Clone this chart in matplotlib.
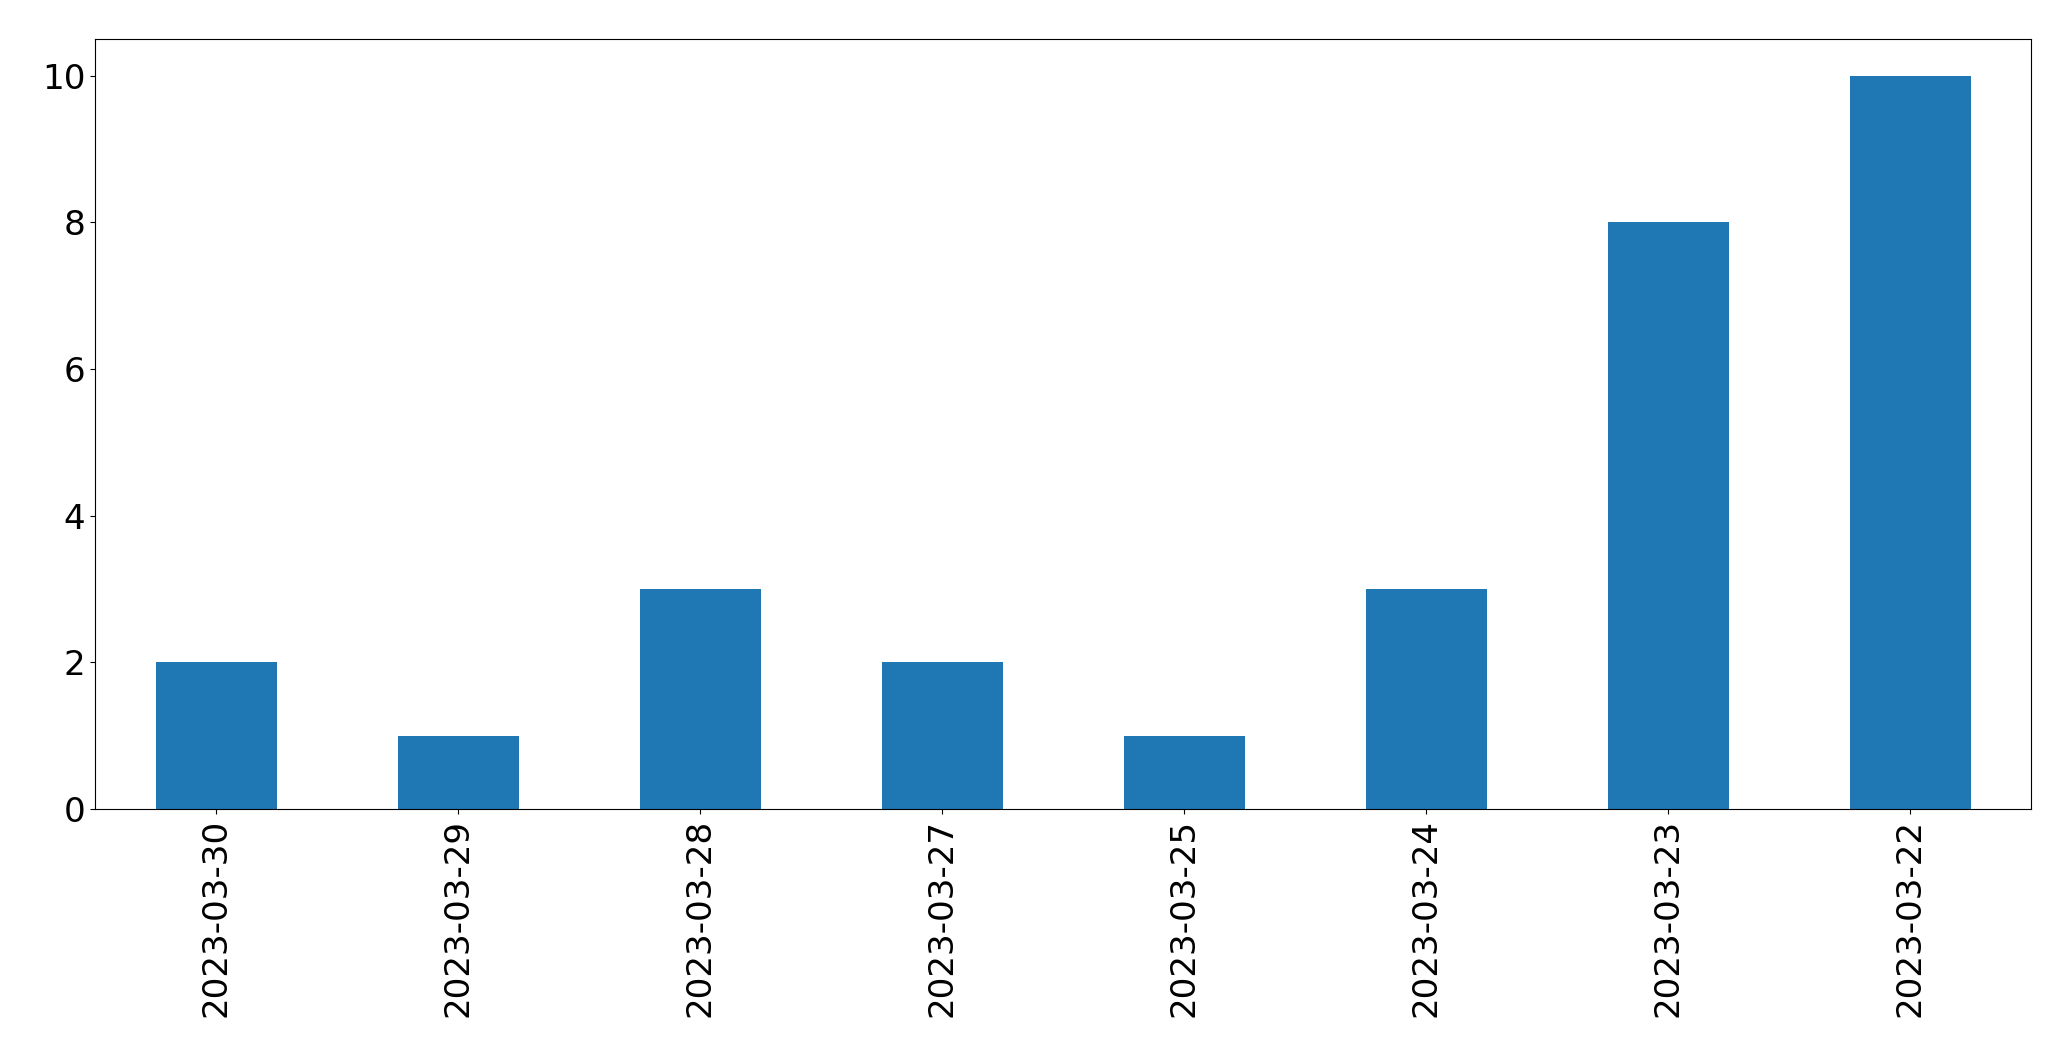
import matplotlib
matplotlib.use("Agg")
import matplotlib.pyplot as plt

dates = ["2023-03-30", "2023-03-29", "2023-03-28", "2023-03-27",
         "2023-03-25", "2023-03-24", "2023-03-23", "2023-03-22"]
counts = [2, 1, 3, 2, 1, 3, 8, 10]

fig = plt.figure(figsize=(20.71, 10.61), dpi=100)
ax = fig.add_axes([95 / 2071, 1 - 809 / 1061, (2031 - 95) / 2071, (809 - 39) / 1061])

x = range(len(dates))
ax.bar(x, counts, width=0.5, color="#1f77b4")
ax.set_xlim(-0.5, len(dates) - 0.5)
ax.set_ylim(0, max(counts) * 1.05)
ax.set_xticks(list(x))
ax.set_xticklabels(dates, rotation=90)
ax.tick_params(labelsize=24.6)

fig.savefig("out.png", dpi=100)
